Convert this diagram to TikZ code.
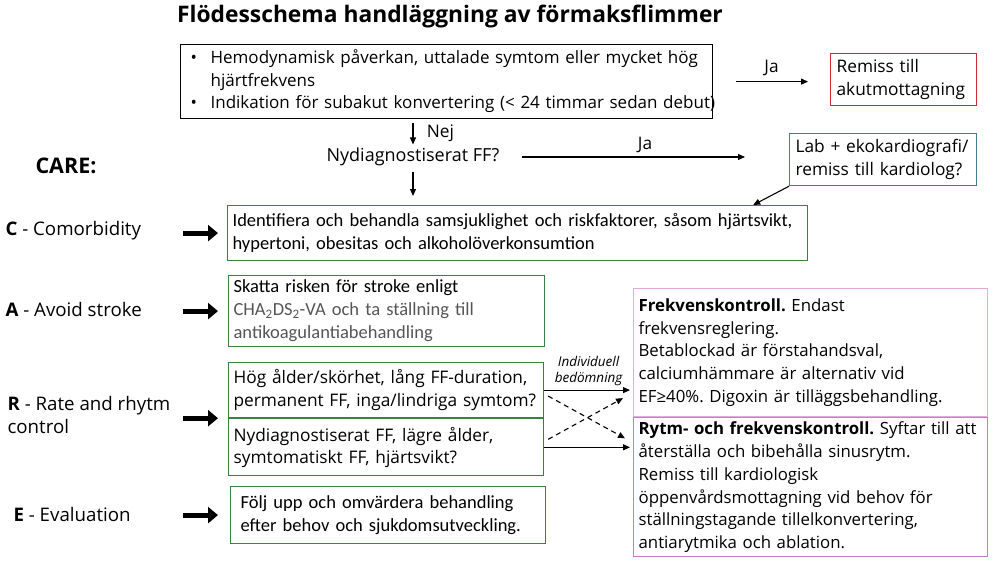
\documentclass[tikz,border=0pt]{standalone}
\usepackage{fontspec}
\setmainfont{Open Sans}
\newfontfamily\calibri{Carlito}
\usetikzlibrary{arrows.meta,positioning,calc}
\definecolor{boxgreen}{RGB}{55,130,65}
\definecolor{boxred}{RGB}{200,45,50}
\definecolor{boxblue}{RGB}{70,125,150}
\definecolor{boxpink}{RGB}{228,170,218}
\definecolor{boxviolet}{RGB}{200,125,195}
\definecolor{textgray}{RGB}{85,85,85}
\frenchspacing
\tikzstyle{frame} = [rectangle, draw, anchor=north west, align=left,
    inner xsep=5pt, inner ysep=2pt, line width=1.2pt, font=\fontsize{17.3}{22.5}\selectfont]
\tikzstyle{greenbox} = [frame, draw=boxgreen, font=\calibri\fontsize{18.5}{23}\selectfont]
\tikzstyle{ratebox} = [frame, draw=boxgreen, font=\fontsize{17.3}{22.5}\selectfont]
\tikzstyle{pinkbox} = [frame, draw=boxpink, font=\fontsize{16.8}{22.8}\selectfont]
\tikzstyle{care} = [anchor=west, align=left, inner sep=0pt, font=\fontsize{18.7}{23}\selectfont]
\tikzstyle{fat} = [line width=5pt, -{Triangle[length=10pt,width=16pt]}]
\tikzstyle{dasharrow} = [->, dash pattern=on 5pt off 4pt]

\begin{document}
\begin{tikzpicture}[x=1pt,y=-1pt,line width=1.1pt,font=\fontsize{17.3}{21}\selectfont,
                    >={Triangle[length=7pt,width=6pt]}]
  \useasboundingbox (0,0) rectangle (1000,562);
  \node[font=\bfseries\fontsize{22.8}{26}\selectfont] (head) at (450,17) {Flödesschema handläggning av förmaksflimmer};

  \node[frame, draw=black, minimum width=532pt, minimum height=74pt, text width=520pt, inner xsep=6pt,
        font=\fontsize{17}{22.5}\selectfont] (hemo) at (180,44)
    {\mbox{\makebox[24pt][l]{\hspace{4pt}\textbullet}Hemodynamisk påverkan, uttalade symtom eller mycket hög}\\
     \hspace*{24pt}hjärtfrekvens\\
     \mbox{\makebox[24pt][l]{\hspace{4pt}\textbullet}Indikation för subakut konvertering (< 24 timmar sedan debut)}};
  \node[frame, draw=boxred, minimum width=146pt, minimum height=52pt, text width=134pt, inner xsep=6pt] (akut) at (830,53)
    {Remiss till\\akutmottagning};
  \node[frame, draw=boxblue, minimum width=187pt, minimum height=52pt, text width=175pt, inner xsep=6pt] (lab) at (789,133)
    {Lab + ekokardiografi/\\remiss till kardiolog?};
  \node[inner sep=1pt, font=\fontsize{18}{21}\selectfont] (nydiag) at (413,157) {Nydiagnostiserat FF?};

  \node[greenbox, minimum width=580pt, minimum height=55pt, text width=570pt] (comorb) at (227,205)
    {Identifiera och behandla samsjuklighet och riskfaktorer, såsom hjärtsvikt,\\
     hypertoni, obesitas och alkoholöverkonsumtion};
  \node[greenbox, minimum width=316pt, minimum height=71pt, text width=306pt] (stroke) at (228,275)
    {Skatta risken för stroke enligt\\
     {\color{textgray}CHA\textsubscript{2}DS\textsubscript{2}-VA och ta ställning till}\\
     {\color{textgray}antikoagulantiabehandling}};
  \node[ratebox, minimum width=315pt, minimum height=55pt, text width=305pt] (rateA) at (228,362)
    {Hög ålder/skörhet, lång FF-duration,\\permanent FF, inga/lindriga symtom?};
  \node[ratebox, minimum width=315pt, minimum height=57pt, text width=305pt] (rateB) [below=0pt of rateA]
    {Nydiagnostiserat FF, lägre ålder,\\symtomatiskt FF, hjärtsvikt?};
  \node[greenbox, minimum width=315pt, minimum height=57pt, text width=295pt, inner xsep=10pt] (evalbox) at (230,486)
    {Följ upp och omvärdera behandling\\efter behov och sjukdomsutveckling.};

  \node[pinkbox, minimum width=354pt, minimum height=128pt, text width=344pt] (freq) at (633,288)
    {\textbf{Frekvenskontroll.} Endast\\
     frekvensreglering.\\
     Betablockad är förstahandsval,\\
     calciumhämmare är alternativ vid\\
     EF≥40\%. Digoxin är tilläggsbehandling.};
  \node[pinkbox, draw=boxviolet, minimum width=354pt, minimum height=139pt, text width=344pt] (rytm) [below=0pt of freq]
    {\textbf{Rytm- och frekvenskontroll.} Syftar till att\\
     återställa och bibehålla sinusrytm.\\
     Remiss till kardiologisk\\
     öppenvårdsmottagning vid behov för\\
     ställningstagande tillelkonvertering,\\
     antiarytmika och ablation.};

  \node[care, font=\bfseries\fontsize{21.5}{25}\selectfont] (careT) at (35,166) {CARE:};
  \node[care] (labC) at (5,231) {\textbf{C} - Comorbidity};
  \node[care] (labA) at (5,309) {\textbf{A} - Avoid stroke};
  \node[care] (labR) at (7,415) {\textbf{R} - Rate and rhytm\\control};
  \node[care] (labE) at (13,514) {\textbf{E} - Evaluation};

  \draw[fat] ($(comorb.west)+(-44,0)$) -- ($(comorb.west)+(-9,0)$);
  \draw[fat] ($(stroke.west)+(-45,0)$) -- ($(stroke.west)+(-10,0)$);
  \draw[fat] ($(rateA.south west)+(-45,0)$) -- ($(rateA.south west)+(-10,0)$);
  \draw[fat] ($(evalbox.west)+(-47,0)$) -- ($(evalbox.west)+(-12,0)$);

  \path[->] (hemo.east) edge[shorten <=23pt, shorten >=22pt] node[above=2pt] {Ja} (hemo.east -| akut.west)
        (nydiag.north |- hemo.south) edge[shorten <=4pt, shorten >=2pt] node[right=10pt] {Nej} (nydiag.north)
        (nydiag.south) edge[shorten <=4pt, shorten >=9pt] (nydiag.south |- comorb.north)
        (nydiag.east) edge[shorten <=21pt, shorten >=44pt] node[above] {Ja} (nydiag.east -| lab.west)
        (lab.south west) edge ($(comorb.north east)+(-55,0)$)
        (rateA.east) edge[shorten >=3pt] node[above, align=center, font=\itshape\fontsize{13.5}{16}\selectfont]
            {Individuell\\bedömning} (rateA.east -| freq.west)
        (rateB.east) edge[shorten >=3pt] (rateB.east -| rytm.west);
  \path[dasharrow] ($(rateA.east)+(4,6)$) edge ($(rateB.east -| rytm.west)+(-8,-9)$)
        ($(rateB.east)+(4,-8)$) edge ($(rateA.east -| freq.west)+(-10,8)$);
\end{tikzpicture}
\end{document}
